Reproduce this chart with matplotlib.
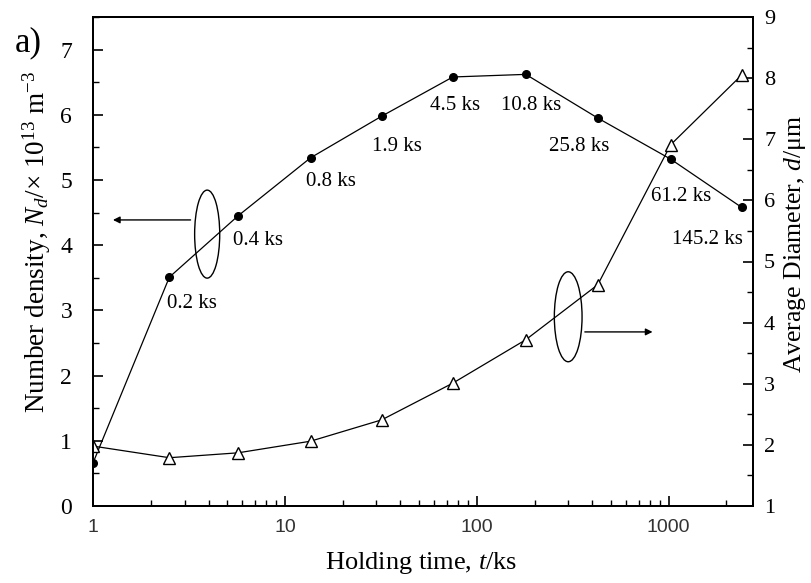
import numpy as np
import matplotlib
matplotlib.use('Agg')
import matplotlib.pyplot as plt
from matplotlib.patches import Ellipse
from matplotlib.ticker import LogLocator, NullFormatter, MultipleLocator, FixedLocator, FixedFormatter

plt.rcParams['font.family'] = 'Liberation Serif'
plt.rcParams['mathtext.fontset'] = 'custom'
plt.rcParams['mathtext.rm'] = 'Liberation Serif'
plt.rcParams['mathtext.it'] = 'Liberation Serif:italic'

# 数据
t = [1, 2.5, 5.7, 13.6, 32, 75, 180, 427, 1024, 2400]
Nd = [0.66, 3.51, 4.45, 5.34, 5.98, 6.58, 6.62, 5.95, 5.32, 4.58]
d = [1.98, 1.79, 1.87, 2.06, 2.41, 3.01, 3.72, 4.62, 6.91, 8.05]
lab = ['', '0.2 ks', '0.4 ks', '0.8 ks', '1.9 ks', '4.5 ks', '10.8 ks', '25.8 ks', '61.2 ks', '145.2 ks']
# 标签偏移(像素)
off = [(0, 0), (-2, -26), (-5, -25), (-5, -24), (-10, -30), (2, -29), (5, -31), (-19, -28), (10, -37), (-34, -32)]
ha = ['left', 'left', 'left', 'left', 'left', 'center', 'center', 'center', 'center', 'center']

fig = plt.figure(figsize=(8.11, 5.83), dpi=100)
ax = fig.add_axes([93/811, 1-506/583, 660/811, 489/583])
ax2 = ax.twinx()

ax.plot(t, Nd, '-', color='k', lw=0.9, marker='o', ms=5.5, mfc='k', mec='k')
ax2.plot(t, d, '-', color='k', lw=0.9, marker='^', ms=8, mfc='white', mec='k', mew=1.0)

for i in range(1, len(t)):
    ax.annotate(lab[i], (t[i], Nd[i]), xytext=off[i], textcoords='offset pixels',
                ha=ha[i], va='center', fontsize=15)

ax.set_xscale('log')
ax.set_xlim(1, 2750)
ax.set_ylim(0, 7.5)
ax2.set_ylim(1, 9)

ax.xaxis.set_major_locator(FixedLocator([1, 10, 100, 1000]))
ax.xaxis.set_major_formatter(FixedFormatter(['1', '10', '100', '1000']))
ax.xaxis.set_minor_locator(LogLocator(base=10, subs=np.arange(2, 10)))
ax.xaxis.set_minor_formatter(NullFormatter())
ax.yaxis.set_major_locator(MultipleLocator(1))
ax.yaxis.set_minor_locator(MultipleLocator(0.5))
ax2.yaxis.set_major_locator(MultipleLocator(1))
ax2.yaxis.set_minor_locator(MultipleLocator(0.5))

for a in (ax, ax2):
    a.tick_params(which='major', direction='in', length=7, width=1.2)
    a.tick_params(which='minor', direction='in', length=4, width=1.0)
    for s in a.spines.values():
        s.set_linewidth(1.4)
ax.tick_params(axis='x', labelsize=14, pad=9)
for tl in ax.get_xticklabels():
    tl.set_family('Liberation Sans')
    tl.set_color('#333333')
ax.tick_params(axis='y', labelsize=17, pad=15)
ax2.tick_params(axis='y', labelsize=16, pad=8)

fig.text(421/811, 1-563/583, 'Holding time, $t$/ks', fontsize=19, ha='center', va='center')
fig.text(37/811, 1-242/583, 'Number density, $N_d$/× 10$^{13}$ m$^{-3}$', fontsize=19.5,
         rotation=90, ha='center', va='center')
fig.text(795/811, 1-244/583, 'Average Diameter, $d$/μm', fontsize=18.5,
         rotation=90, ha='center', va='center')

# 椭圆与箭头
e1 = Ellipse((0.173, 0.556), 0.038, 0.18, transform=ax.transAxes, fill=False, ec='k', lw=1.0)
ax.add_patch(e1)
ax.annotate('', xy=(0.026, 0.585), xytext=(0.152, 0.585), xycoords='axes fraction',
            arrowprops=dict(arrowstyle='-|>', color='k', lw=1.0, mutation_scale=10))
e2 = Ellipse((0.720, 0.387), 0.042, 0.184, transform=ax.transAxes, fill=False, ec='k', lw=1.0)
ax.add_patch(e2)
ax.annotate('', xy=(0.852, 0.356), xytext=(0.741, 0.356), xycoords='axes fraction',
            arrowprops=dict(arrowstyle='-|>', color='k', lw=1.0, mutation_scale=10))

fig.text(15/811, 1-43/583, 'a)', fontsize=25, va='center', ha='left')

fig.savefig('out.png', dpi=100)
